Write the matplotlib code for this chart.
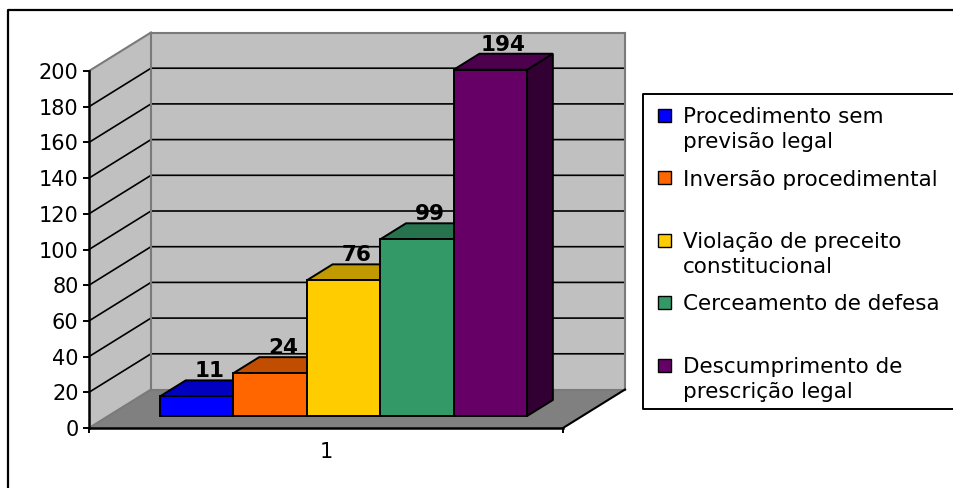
import matplotlib
matplotlib.use("Agg")
import matplotlib.pyplot as plt
from matplotlib.patches import Polygon, Rectangle
from matplotlib.lines import Line2D

# ---------------- data ----------------
categories = [
    "Procedimento sem\nprevisão legal",
    "Inversão procedimental",
    "Violação de preceito\nconstitucional",
    "Cerceamento de defesa",
    "Descumprimento de\nprescrição legal",
]
values = [11, 24, 76, 99, 194]
x_tick_labels = ["1"]
y_ticks = [0, 20, 40, 60, 80, 100, 120, 140, 160, 180, 200]

front_colors = ["#0000FF", "#FF6600", "#FFCC00", "#339966", "#660066"]
top_colors = ["#0000C0", "#C04D00", "#C09A00", "#26734D", "#4D004D"]
side_colors = ["#000080", "#803300", "#806600", "#1A4D33", "#330033"]

plt.rcParams["font.family"] = ["DejaVu Sans"]

W_PX, H_PX = 954, 488
fig = plt.figure(figsize=(W_PX / 100, H_PX / 100), dpi=100)
fig.patch.set_facecolor("white")


def fx(x):
    return x / W_PX


def fy(y):
    return 1 - y / H_PX


# front plane of the 3-D box
ax = fig.add_axes([fx(89), fy(428), (563 - 89) / W_PX, (428 - 71) / H_PX])
ax.set_xlim(0, 1)
ax.set_ylim(0, 200)
ax.set_facecolor("none")

# oblique depth offsets (full depth), in data units
DX = 62 / 474.0
DY = 38.5 * 200 / 357.0


def P(x, y, d):
    return (x + d * DX, y + d * DY)


YMAX = 200
# floor
ax.add_patch(Polygon([P(0, 0, 0), P(1, 0, 0), P(1, 0, 1), P(0, 0, 1)],
                     closed=True, facecolor="#808080", edgecolor="none",
                     clip_on=False, zorder=0.5))
# left wall
ax.add_patch(Polygon([P(0, 0, 0), P(0, YMAX, 0), P(0, YMAX, 1), P(0, 0, 1)],
                     closed=True, facecolor="#C0C0C0", edgecolor="none",
                     clip_on=False, zorder=0.5))
# back wall
ax.add_patch(Polygon([P(0, 0, 1), P(1, 0, 1), P(1, YMAX, 1), P(0, YMAX, 1)],
                     closed=True, facecolor="#C0C0C0", edgecolor="none",
                     clip_on=False, zorder=0.5))

# gridlines
for t in y_ticks[1:-1]:
    a, b, c = P(0, t, 0), P(0, t, 1), P(1, t, 1)
    ax.add_line(Line2D([a[0], b[0], c[0]], [a[1], b[1], c[1]], color="black",
                       lw=1.2, clip_on=False, zorder=1))

# wall edges (gray)
edges = [
    (P(0, YMAX, 0), P(0, YMAX, 1)),
    (P(0, YMAX, 1), P(1, YMAX, 1)),
    (P(0, 0, 1), P(0, YMAX, 1)),
    (P(1, 0, 1), P(1, YMAX, 1)),
    (P(0, 0, 0), P(0, 0, 1)),
    (P(0, 0, 1), P(1, 0, 1)),
]
for (a, b) in edges:
    ax.add_line(Line2D([a[0], b[0]], [a[1], b[1]], color="#7A7A7A", lw=1.5,
                       clip_on=False, zorder=1.1))
# floor right edge (black)
a, b = P(1, 0, 0), P(1, 0, 1)
ax.add_line(Line2D([a[0], b[0]], [a[1], b[1]], color="black", lw=1.5,
                   clip_on=False, zorder=1.2))

# bars
X0 = 0.109
BW = 0.1549
D0, D1 = 0.312, 0.727
for i, v in enumerate(values):
    x0 = X0 + i * BW
    x1 = x0 + BW
    side = [P(x1, 0, D0), P(x1, v, D0), P(x1, v, D1), P(x1, 0, D1)]
    top = [P(x0, v, D0), P(x1, v, D0), P(x1, v, D1), P(x0, v, D1)]
    front = [P(x0, 0, D0), P(x1, 0, D0), P(x1, v, D0), P(x0, v, D0)]
    z = 3 + i * 0.1
    for pts, col in ((side, side_colors[i]), (top, top_colors[i]),
                     (front, front_colors[i])):
        ax.add_patch(Polygon(pts, closed=True, facecolor=col,
                             edgecolor="black", lw=1.4, joinstyle="miter",
                             clip_on=False, zorder=z))
    lx, ly = P((x0 + x1) / 2, v, D1)
    lx = lx - (D1 - (D0 + D1) / 2) * DX
    ax.annotate(str(v), xy=(lx, ly), xytext=(0, 3), textcoords="offset pixels",
                ha="center", va="baseline", fontsize=15.5, fontweight="bold",
                color="black", zorder=10, annotation_clip=False)

# axes styling
for s in ("top", "right"):
    ax.spines[s].set_visible(False)
for s in ("left", "bottom"):
    ax.spines[s].set_color("black")
    ax.spines[s].set_linewidth(1.8)
    ax.spines[s].set_zorder(2)
ax.set_yticks(y_ticks)
ax.set_yticklabels([str(t) for t in y_ticks])
ax.tick_params(axis="y", direction="out", length=4.5, width=1.4, pad=3,
               labelsize=15, colors="black")
ax.set_xticks([0, 1])
ax.set_xticklabels(["", ""])
ax.set_xticks([0.5], minor=True)
ax.set_xticklabels(x_tick_labels, minor=True)
ax.tick_params(axis="x", which="major", direction="out", length=3.5, width=1.4)
ax.tick_params(axis="x", which="minor", length=0, pad=10, labelsize=15)

# outer chart border (right/bottom lie outside the image)
fig.add_artist(Line2D([fx(8), fx(8), fx(960)], [fy(500), fy(10), fy(10)],
                      color="black", lw=1.6, transform=fig.transFigure))

# legend box
fig.add_artist(Line2D([fx(960), fx(643), fx(643), fx(960)],
                      [fy(94), fy(94), fy(409), fy(409)],
                      color="black", lw=1.4, transform=fig.transFigure))
for i, lab in enumerate(categories):
    yc = 115 + 62.5 * i
    fig.add_artist(Rectangle((fx(658), fy(yc + 6.5)), 13 / W_PX, 13 / H_PX,
                             facecolor=front_colors[i], edgecolor="black",
                             lw=1.0, transform=fig.transFigure))
    for j, line in enumerate(lab.split("\n")):
        fig.text(fx(683), fy(yc + 25 * j), line, ha="left", va="center_baseline",
                 fontsize=15.5, color="black")

fig.savefig("out.png", dpi=100)
